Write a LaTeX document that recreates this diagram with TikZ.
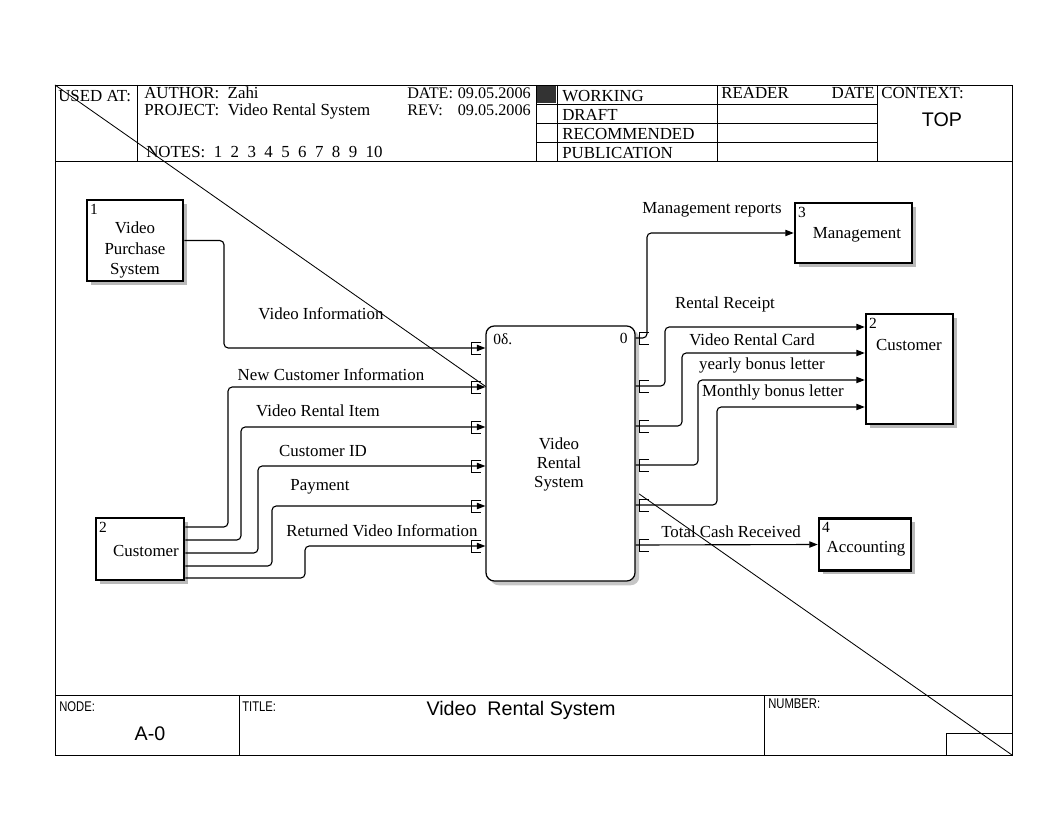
\documentclass[tikz,border=0pt]{standalone}
\usepackage{fontspec}
\setmainfont{Liberation Serif}
\newfontfamily\arialfont{Liberation Sans}
\newfontfamily\narrowfont[FakeStretch=0.8]{Liberation Sans}
\usetikzlibrary{arrows.meta,shadows}

\tikzset{
  extbox/.style={draw,line width=1.8pt,fill=white,align=center,inner sep=2pt,
    general shadow={fill=gray!55,shadow xshift=2.5pt,shadow yshift=-2.5pt}},
  actbox/.style={draw,line width=0.9pt,rounded corners=6pt,fill=white,
    general shadow={fill=gray!45,shadow xshift=3pt,shadow yshift=-3pt}},
  flow/.style={line width=0.8pt,rounded corners=3pt,-{Triangle[length=6pt,width=4.5pt]}},
  tunnel/.style={line width=0.7pt},
  boxnum/.style={anchor=north west,inner xsep=3pt,inner ysep=3.5pt,font=\fontsize{11}{12}\selectfont},
  form/.style={line width=0.7pt},
  hdr/.style={anchor=base west,inner sep=0pt},
  tag/.style={anchor=base west,inner sep=0pt,font=\narrowfont\fontsize{10}{12}\selectfont},
  big/.style={font=\arialfont\fontsize{14}{16}\selectfont}
}

\begin{document}
\begin{tikzpicture}[x=0.025cm,y=-0.025cm,font=\fontsize{12}{14}\selectfont]
\useasboundingbox (0,0) rectangle (1056,832);

% form frame
\draw[form] (55,85) rectangle (1012,755);
\draw[form] (55,161) -- (1012,161);
\draw[form] (137,85) -- (137,161);
\draw[form] (536,85) -- (536,161);
\draw[form] (557,85) -- (557,161);
\draw[form] (717,85) -- (717,161);
\draw[form] (877,85) -- (877,161);
\draw[form] (536,104) -- (877,104);
\draw[form] (536,123) -- (877,123);
\draw[form] (536,142) -- (877,142);
\fill[black!80] (537,86) rectangle (556,103);
\draw[form] (55,695) -- (1012,695);
\draw[form] (239,695) -- (239,755);
\draw[form] (764,695) -- (764,755);
\draw[form] (946,755) |- (1012,733);
\draw[line width=0.6pt] (55,85) -- (1012,755);

% header
\node[hdr] (usedat) at (58,102) {USED AT:};
\node[hdr] (author) at (144,99) {AUTHOR:\ \ Zahi};
\node[hdr] (project) at (144,116) {PROJECT:\ \ Video Rental System};
\node[hdr] (notes) at (146,158) {NOTES:\ \ 1\ \ 2\ \ 3\ \ 4\ \ 5\ \ 6\ \ 7\ \ 8\ \ 9\ \ 10};
\node[hdr,font=\fontsize{11.5}{13}\selectfont] (date) at (407,99) {\makebox[36pt][l]{DATE:}09.05.2006};
\node[hdr,font=\fontsize{11.5}{13}\selectfont] (rev) at (407,116) {\makebox[36pt][l]{REV:}09.05.2006};
\node[hdr] (working) at (562,102) {WORKING};
\node[hdr] (draft) at (562,121) {DRAFT};
\node[hdr] (recom) at (562,140) {RECOMMENDED};
\node[hdr] (public) at (562,159) {PUBLICATION};
\node[hdr] (reader) at (721,99) {READER};
\node[anchor=base east,inner sep=0pt] (rdate) at (875,99) {DATE};
\node[hdr] (context) at (881,99) {CONTEXT:};
\node[big] (top) at (942,120) {TOP};

% footer
\node[tag] (nodetag) at (59,711) {NODE:};
\node[big] (nodeno) at (150,734) {A-0};
\node[tag] (titletag) at (242,711) {TITLE:};
\node[big] (title) at (521,710) {Video\ \ Rental System};
\node[tag] (numbertag) at (768,708) {NUMBER:};

% boxes
\node[extbox,minimum width=2.4cm,minimum height=2.025cm,label={[boxnum]north west:1}] (vps) at (135,240.5) {};
\node[align=center,font=\fontsize{12}{14.5}\selectfont] (vpstext) at (135,250) {Video\\Purchase\\System};
\node[extbox,minimum width=2.2cm,minimum height=1.55cm,label={[boxnum]north west:2}] (cust1) at (140,549) {};
\node (cust1text) at (146,551) {Customer};
\node[extbox,minimum width=2.925cm,minimum height=1.5cm,label={[boxnum]north west:3}] (mgmt) at (853.5,233) {};
\node (mgmttext) at (857,235) {Management};
\node[extbox,minimum width=2.175cm,minimum height=2.75cm,label={[boxnum]north west:2}] (cust2) at (909.5,369) {};
\node (cust2text) at (909,345) {Customer};
\node[extbox,minimum width=2.3cm,minimum height=1.3cm,label={[boxnum]north west:4}] (acct) at (865,544.5) {};
\node (accttext) at (866,549) {Accounting};

\node[actbox,minimum width=3.725cm,minimum height=6.375cm] (vrs) at (560.5,453.5) {};
\node[anchor=north west,inner sep=0pt,font=\fontsize{11}{12}\selectfont] (vrsnum) at (493,333) {0δ.};
\node[anchor=north east,inner sep=0pt,font=\fontsize{11}{12}\selectfont] (vrscost) at (628,333) {0};
\node[align=center,font=\fontsize{12}{13.5}\selectfont] (vrstext) at (559,464) {Video\\Rental\\System};

% tunnels
\foreach \y in {348,387,427,466,506,546}
  \draw[tunnel] (481,\y-6) -- (471,\y-6) -- (471,\y+6) -- (481,\y+6);
\foreach \y in {338,386,426,465,505,545}
  \draw[tunnel] (649,\y-6) -- (639,\y-6) -- (639,\y+6) -- (649,\y+6);

% inputs
\draw[flow] (vps.east) -- (224,240.5) -- (224,348) -- (vrs.west |- 0,348);
\draw[flow] (cust1.east) ++(0,-22) -- (228,527) -- (228,387) -- (vrs.west |- 0,387);
\draw[flow] (cust1.east) ++(0,-9) -- (241,540) -- (241,427) -- (vrs.west |- 0,427);
\draw[flow] (cust1.east) ++(0,4) -- (258,553) -- (258,466) -- (vrs.west |- 0,466);
\draw[flow] (cust1.east) ++(0,17) -- (272,566) -- (272,506) -- (vrs.west |- 0,506);
\draw[flow] (cust1.east) ++(0,29) -- (305,578) -- (305,546) -- (vrs.west |- 0,546);

% outputs
\draw[flow] (vrs.east |- 0,338) -- (647,338) -- (647,233) -- (mgmt.west);
\draw[flow] (vrs.east |- 0,386) -- (665,386) -- (665,327) -- (cust2.west |- 0,327);
\draw[flow] (vrs.east |- 0,426) -- (682,426) -- (682,353) -- (cust2.west |- 0,353);
\draw[flow] (vrs.east |- 0,465) -- (698,465) -- (698,380) -- (cust2.west |- 0,380);
\draw[flow] (vrs.east |- 0,505) -- (717,505) -- (717,407) -- (cust2.west |- 0,407);
\draw[flow] (vrs.east |- 0,545) -- (acct.west);

% arrow labels
\node (lvi) at (321,314) {Video Information};
\node (lnci) at (331,375) {New Customer Information};
\node (lvri) at (318,411) {Video Rental Item};
\node (lcid) at (323,451) {Customer ID};
\node (lpay) at (320,487) {Payment};
\node (lrvi) at (382,531) {Returned Video Information};
\node (lmr) at (712,210) {Management reports};
\node (lrr) at (725,304) {Rental Receipt};
\node (lvrc) at (752,340) {Video Rental Card};
\node (lybl) at (762,365) {yearly bonus letter};
\node (lmbl) at (773,392) {Monthly bonus letter};
\node (ltcr) at (731,532) {Total Cash Received};
\end{tikzpicture}
\end{document}
